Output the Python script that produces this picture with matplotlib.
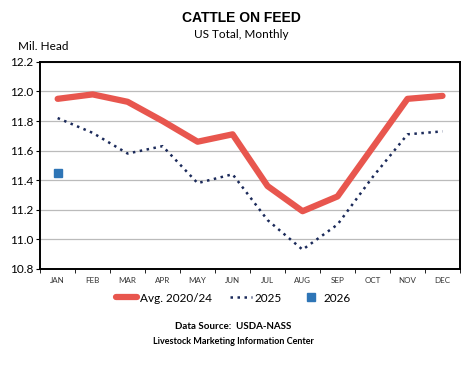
import matplotlib
matplotlib.use('Agg')
import matplotlib.pyplot as plt

months = ['JAN', 'FEB', 'MAR', 'APR', 'MAY', 'JUN', 'JUL', 'AUG', 'SEP', 'OCT', 'NOV', 'DEC']
avg_2020_24 = [11.95, 11.98, 11.93, 11.80, 11.66, 11.71, 11.36, 11.19, 11.29, 11.62, 11.95, 11.97]
y2025 = [11.82, 11.72, 11.58, 11.63, 11.38, 11.44, 11.13, 10.93, 11.10, 11.42, 11.71, 11.73]
y2026 = [11.45]
yticks = [10.8, 11.0, 11.2, 11.4, 11.6, 11.8, 12.0, 12.2]

fig = plt.figure(figsize=(4.67, 3.75), dpi=100)
ax = fig.add_axes([0.086, 0.283, 0.899, 0.552])

x = range(len(months))
ax.plot(x, avg_2020_24, color='#E8564E', lw=4.5, solid_capstyle='round',
        label='Avg. 2020/24', zorder=3)
ax.plot(x, y2025, color='#1B2A5A', lw=1.8, ls=(0, (1, 1.8)), label='2025', zorder=4)
ax.plot(range(len(y2026)), y2026, ls='none', marker='s', ms=5.5, color='#2E75B6',
        label='2026', zorder=5)

ax.set_xlim(-0.5, 11.5)
ax.set_ylim(10.8, 12.2)
ax.set_yticks(yticks)
ax.set_yticklabels(['{0:.1f}'.format(v) for v in yticks], fontsize=8.5, family='Lato')
ax.set_xticks(x)
ax.set_xticklabels(months, fontsize=5.8, family='Lato', color='#333333')
ax.set_xticks([i - 0.5 for i in range(13)], minor=True)
ax.tick_params(axis='x', which='major', length=0, pad=6)
ax.tick_params(axis='x', which='minor', length=3, direction='out')
ax.tick_params(axis='y', length=3, direction='out', pad=2)
ax.grid(True, axis='y', color='#BBBBBB', lw=0.9)
ax.set_axisbelow(True)
for s in ax.spines.values():
    s.set_linewidth(1.4)
    s.set_color('black')

fig.text(0.516, 0.952, 'CATTLE ON FEED', ha='center', va='center', fontsize=10,
         fontweight='bold', family='Liberation Sans')
fig.text(0.516, 0.907, 'US Total, Monthly', ha='center', va='center', fontsize=8.5,
         family='Lato')
fig.text(0.038, 0.877, 'Mil. Head', ha='left', va='center', fontsize=8.5, family='Lato')

leg = fig.legend(loc='center', bbox_to_anchor=(0.5, 0.205), ncol=3, frameon=False,
                 prop={'family': 'Lato', 'size': 8.5},
                 handlelength=1.8, handletextpad=0.2, columnspacing=1.6)

fig.text(0.5, 0.13, 'Data Source:  USDA-NASS', ha='center', va='center', fontsize=7,
         fontweight='bold', family='Lato')
fig.text(0.5, 0.088, 'Livestock Marketing Information Center', ha='center', va='center',
         fontsize=6.5, fontweight='bold', family='Lato')

fig.savefig('out.png', dpi=100)
